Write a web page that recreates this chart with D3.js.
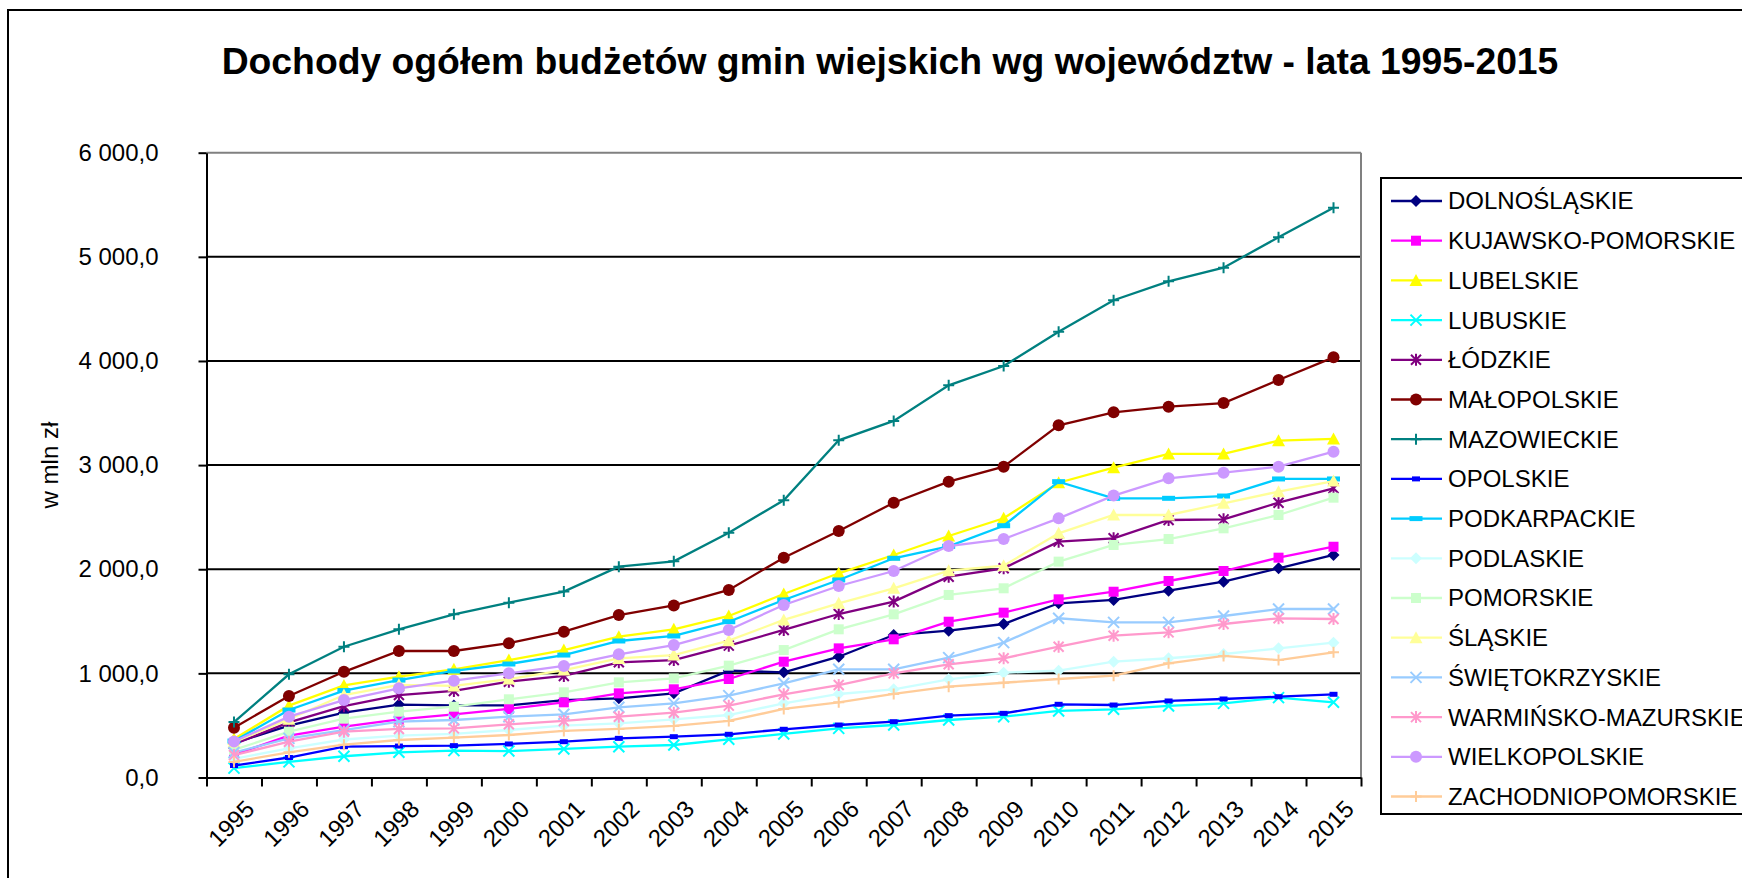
<!DOCTYPE html>
<html>
<head>
<meta charset="utf-8">
<script src="https://cdn.jsdelivr.net/npm/d3@7"></script>
<style>
body { margin: 0; background: #fff; }
svg text { font-family: "Liberation Sans", Arial, sans-serif; fill: #000; }
</style>
</head>
<body>
<div id="chart"></div>
<script>
// Categories and tick labels
const years = ["1995", "1996", "1997", "1998", "1999", "2000", "2001", "2002", "2003", "2004",
    "2005", "2006", "2007", "2008", "2009", "2010", "2011", "2012", "2013", "2014", "2015"];
const yTicks = [0, 1000, 2000, 3000, 4000, 5000, 6000];

// Series values (mln zł)
const dolnoslaskie = [330, 498, 624, 700, 692, 692, 744, 760, 808, 1026, 1010, 1160, 1368, 1410, 1474, 1673, 1705, 1794, 1880, 2009, 2137];
const kujawskoPomorskie = [220, 402, 488, 559, 607, 658, 722, 808, 847, 946, 1112, 1240, 1327, 1496, 1583, 1711, 1784, 1887, 1983, 2111, 2216];
const lubelskie = [370, 690, 884, 968, 1039, 1128, 1224, 1352, 1423, 1551, 1762, 1961, 2137, 2319, 2489, 2831, 2975, 3107, 3107, 3235, 3251];
const lubuskie = [90, 150, 204, 242, 258, 254, 274, 296, 312, 367, 418, 472, 504, 552, 584, 639, 655, 687, 712, 767, 722];
const lodzkie = [320, 530, 685, 792, 831, 920, 975, 1106, 1128, 1266, 1417, 1570, 1689, 1928, 2009, 2265, 2297, 2473, 2479, 2639, 2777];
const malopolskie = [478, 783, 1015, 1215, 1215, 1290, 1400, 1560, 1652, 1801, 2111, 2367, 2639, 2841, 2985, 3382, 3507, 3561, 3596, 3817, 4035];
const mazowieckie = [532, 991, 1256, 1423, 1567, 1679, 1785, 2025, 2076, 2351, 2662, 3238, 3424, 3766, 3952, 4281, 4583, 4765, 4896, 5188, 5472];
const opolskie = [115, 192, 296, 302, 306, 322, 344, 376, 392, 415, 463, 504, 536, 594, 616, 703, 696, 735, 754, 776, 799];
const podkarpackie = [350, 648, 835, 936, 1023, 1090, 1176, 1311, 1359, 1496, 1705, 1897, 2105, 2220, 2418, 2841, 2681, 2681, 2703, 2867, 2867];
const podlaskie = [180, 280, 365, 402, 418, 456, 498, 520, 559, 600, 712, 802, 847, 943, 1006, 1026, 1112, 1145, 1186, 1240, 1295];
const pomorskie = [265, 440, 565, 632, 680, 751, 818, 914, 952, 1074, 1224, 1423, 1567, 1753, 1817, 2073, 2233, 2290, 2393, 2521, 2687];
const slaskie = [340, 560, 792, 890, 880, 945, 1032, 1144, 1176, 1314, 1513, 1673, 1817, 1986, 2034, 2345, 2521, 2521, 2633, 2745, 2847];
const swietokrzyskie = [240, 376, 456, 536, 552, 584, 607, 674, 712, 786, 905, 1039, 1039, 1151, 1295, 1529, 1490, 1490, 1551, 1618, 1618];
const warminskoMazurskie = [215, 344, 440, 466, 472, 511, 543, 584, 622, 690, 799, 888, 1000, 1087, 1145, 1256, 1362, 1394, 1474, 1529, 1522];
const wielkopolskie = [345, 584, 744, 856, 930, 1000, 1071, 1183, 1272, 1417, 1657, 1839, 1983, 2223, 2290, 2489, 2707, 2873, 2927, 2985, 3129];
const zachodniopomorskie = [150, 242, 315, 360, 383, 408, 447, 466, 495, 543, 658, 722, 802, 872, 910, 946, 978, 1097, 1167, 1128, 1202];

const seriesNames = ["DOLNOŚLĄSKIE", "KUJAWSKO-POMORSKIE", "LUBELSKIE", "LUBUSKIE", "ŁÓDZKIE", "MAŁOPOLSKIE",
    "MAZOWIECKIE", "OPOLSKIE", "PODKARPACKIE", "PODLASKIE", "POMORSKIE", "ŚLĄSKIE", "ŚWIĘTOKRZYSKIE",
    "WARMIŃSKO-MAZURSKIE", "WIELKOPOLSKIE", "ZACHODNIOPOMORSKIE"];
const seriesValues = [dolnoslaskie, kujawskoPomorskie, lubelskie, lubuskie, lodzkie, malopolskie,
    mazowieckie, opolskie, podkarpackie, podlaskie, pomorskie, slaskie, swietokrzyskie,
    warminskoMazurskie, wielkopolskie, zachodniopomorskie];

// Excel-style colours and marker shapes, one per series
const styles = [
    { color: "#000080", marker: "diamond" },
    { color: "#FF00FF", marker: "square" },
    { color: "#FFFF00", marker: "triangle" },
    { color: "#00FFFF", marker: "x" },
    { color: "#800080", marker: "star" },
    { color: "#800000", marker: "circle" },
    { color: "#008080", marker: "plus" },
    { color: "#0000FF", marker: "smallrect" },
    { color: "#00CCFF", marker: "dash" },
    { color: "#CCFFFF", marker: "diamond" },
    { color: "#CCFFCC", marker: "square" },
    { color: "#FFFF99", marker: "triangle" },
    { color: "#99CCFF", marker: "x" },
    { color: "#FF99CC", marker: "star" },
    { color: "#CC99FF", marker: "circle" },
    { color: "#FFCC99", marker: "plus" }
];

const series = seriesNames.map((name, i) => ({
    name: name,
    style: styles[i],
    values: seriesValues[i].map((v, j) => ({ year: years[j], v: v }))
}));

const width = 1742, height = 878;
const plot = { left: 206.5, right: 1361, top: 152.7, bottom: 777.5 };

const svg = d3.select("#chart")
    .append("svg")
    .attr("width", width)
    .attr("height", height);

// Chart area border (runs off the right and bottom of the picture)
svg.append("rect")
    .attr("x", 8).attr("y", 10)
    .attr("width", 1800).attr("height", 900)
    .attr("fill", "none")
    .attr("stroke", "#000")
    .attr("stroke-width", 2);

// Title
svg.append("text")
    .attr("x", 890)
    .attr("y", 74)
    .attr("text-anchor", "middle")
    .style("font-size", "37.3px")
    .style("font-weight", "bold")
    .text("Dochody ogółem budżetów gmin wiejskich wg województw - lata 1995-2015");

// Scales
const x = d3.scaleBand().domain(years).range([plot.left, plot.right]);
const xEdge = d3.scaleLinear().domain([0, years.length]).range([plot.left, plot.right]);
const y = d3.scaleLinear().domain([0, 6000]).range([plot.bottom, plot.top]);
const cx = d => x(d) + x.bandwidth() / 2;

// Gridlines
svg.append("g")
    .selectAll("line")
    .data(yTicks.filter(v => v > 0))
    .enter()
    .append("line")
    .attr("x1", plot.left).attr("x2", plot.right)
    .attr("y1", d => y(d)).attr("y2", d => y(d))
    .attr("stroke", d => d === 6000 ? "#808080" : "#000")
    .attr("stroke-width", 2);

// Right border of plot area
svg.append("line")
    .attr("x1", plot.right).attr("x2", plot.right)
    .attr("y1", plot.top).attr("y2", plot.bottom)
    .attr("stroke", "#808080")
    .attr("stroke-width", 2);

// Y axis
const fmt = v => d3.format(",")(v).replace(",", " ") + ",0";
const yAxis = svg.append("g")
    .attr("transform", `translate(${plot.left},0)`)
    .call(d3.axisLeft(y).tickValues(yTicks).tickSize(8).tickSizeOuter(0).tickPadding(40).tickFormat(fmt));
yAxis.selectAll("path, line").attr("stroke", "#000").attr("stroke-width", 2);
yAxis.selectAll("text").style("font-size", "24px").attr("fill", "#000");

// X axis: ticks between categories
const xAxis = svg.append("g")
    .attr("transform", `translate(0,${plot.bottom})`)
    .call(d3.axisBottom(xEdge).tickValues(d3.range(years.length + 1)).tickSize(9).tickSizeOuter(0).tickFormat(""));
xAxis.selectAll("path, line").attr("stroke", "#000").attr("stroke-width", 2);

svg.append("g")
    .selectAll("text")
    .data(years)
    .enter()
    .append("text")
    .attr("transform", d => `translate(${cx(d) + 22},${plot.bottom + 33}) rotate(-45)`)
    .attr("text-anchor", "end")
    .style("font-size", "24px")
    .text(d => d);

// Y axis title
svg.append("text")
    .attr("transform", `translate(58,${(plot.top + plot.bottom) / 2}) rotate(-90)`)
    .attr("text-anchor", "middle")
    .style("font-size", "24px")
    .text("w mln zł");

// Marker shapes
function markerPath(type, s) {
    switch (type) {
        case "diamond": return `M0,${-s}L${s},0L0,${s}L${-s},0Z`;
        case "square": return `M${-s},${-s}h${2 * s}v${2 * s}h${-2 * s}Z`;
        case "triangle": return `M0,${-s}L${s},${s * 0.85}L${-s},${s * 0.85}Z`;
        case "x": return `M${-s},${-s}L${s},${s}M${s},${-s}L${-s},${s}`;
        case "star": return `M${-s},${-s}L${s},${s}M${s},${-s}L${-s},${s}M0,${-s * 1.2}L0,${s * 1.2}`;
        case "plus": return `M${-s},0L${s},0M0,${-s}L0,${s}`;
        case "circle": return `M${-s},0A${s},${s} 0 1,0 ${s},0A${s},${s} 0 1,0 ${-s},0Z`;
        case "smallrect": return "M-4,-2.5h8v5h-8Z";
        case "dash": return "M-6.5,-2.5h13v5h-13Z";
    }
}
const markerSize = { diamond: 6, square: 5, triangle: 6.5, x: 5.5, star: 5, plus: 5.5, circle: 6, smallrect: 0, dash: 0 };
const stroked = t => t === "x" || t === "star" || t === "plus";

function drawMarker(g, style) {
    const t = style.marker;
    g.append("path")
        .attr("d", markerPath(t, markerSize[t]))
        .attr("fill", stroked(t) ? "none" : style.color)
        .attr("stroke", stroked(t) ? style.color : "none")
        .attr("stroke-width", 2);
}

// Lines and markers
const line = d3.line().x(d => cx(d.year)).y(d => y(d.v));

const seriesG = svg.append("g")
    .selectAll("g")
    .data(series)
    .enter()
    .append("g");

seriesG.append("path")
    .attr("d", d => line(d.values))
    .attr("fill", "none")
    .attr("stroke", d => d.style.color)
    .attr("stroke-width", 2.3);

seriesG.each(function (s) {
    d3.select(this).selectAll("g.m")
        .data(s.values)
        .enter()
        .append("g")
        .attr("class", "m")
        .attr("transform", d => `translate(${cx(d.year)},${y(d.v)})`)
        .each(function () { drawMarker(d3.select(this), s.style); });
});

// Legend (its right side runs past the edge, as in the original)
const legend = svg.append("g");
legend.append("rect")
    .attr("x", 1381).attr("y", 178)
    .attr("width", 420).attr("height", 636)
    .attr("fill", "#fff")
    .attr("stroke", "#000")
    .attr("stroke-width", 2);

const item = legend.selectAll("g.item")
    .data(series)
    .enter()
    .append("g")
    .attr("class", "item")
    .attr("transform", (d, i) => `translate(0,${201 + i * 39.7})`);

item.append("line")
    .attr("x1", 1391).attr("x2", 1442)
    .attr("stroke", d => d.style.color)
    .attr("stroke-width", 2.3);

item.append("g")
    .attr("transform", "translate(1416,0)")
    .each(function (d) { drawMarker(d3.select(this), d.style); });

item.append("text")
    .attr("x", 1448)
    .attr("dy", "0.35em")
    .style("font-size", "24px")
    .text(d => d.name);
</script>
</body>
</html>
